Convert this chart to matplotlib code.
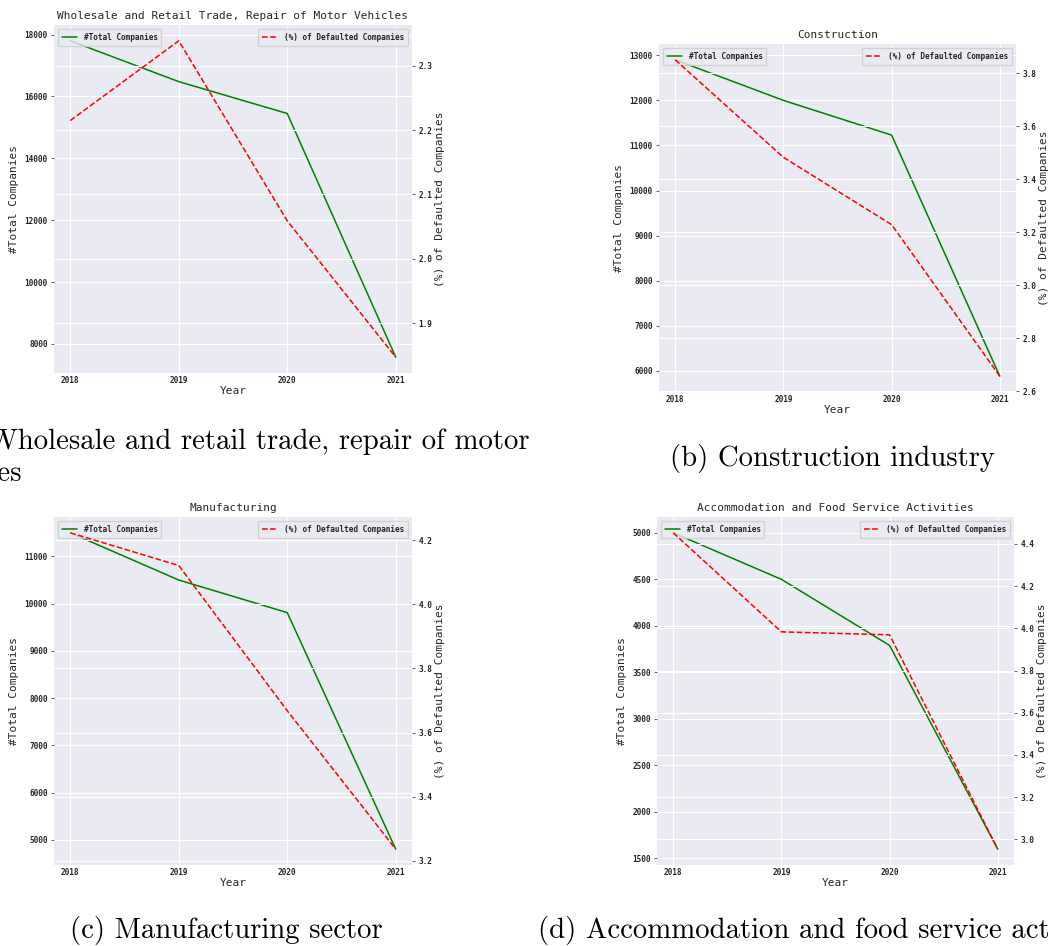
import matplotlib

matplotlib.use('Agg')
import matplotlib.pyplot as plt

years = [2018, 2019, 2020, 2021]

titles = ["Wholesale and Retail Trade, Repair of Motor Vehicles",
          "Construction",
          "Manufacturing",
          "Accommodation and Food Service Activities"]

# total companies per year
total_wholesale = [17800, 16480, 15450, 7570]
total_construction = [12900, 12000, 11230, 5880]
total_manufacturing = [11500, 10500, 9810, 4800]
total_accommodation = [5000, 4500, 3790, 1600]

# share of defaulted companies (%)
pct_wholesale = [2.215, 2.339, 2.059, 1.847]
pct_construction = [3.850, 3.482, 3.228, 2.656]
pct_manufacturing = [4.223, 4.121, 3.668, 3.236]
pct_accommodation = [4.452, 3.983, 3.969, 2.954]

captions = ["(a) Wholesale and retail trade, repair of motor",
            "vehicles",
            "(b) Construction industry",
            "(c) Manufacturing sector",
            "(d) Accommodation and food service activities"]

plt.style.use('seaborn-v0_8-darkgrid')
plt.rcParams['font.family'] = 'DejaVu Sans Mono'

W, H = 1049, 946
fig = plt.figure(figsize=(W / 100, H / 100), dpi=100)

# axes boxes in pixels: left, top, width, height
boxes = [(54, 25, 358, 348), (659, 44, 357, 348),
         (54, 517, 358, 348), (657, 517, 357, 348)]

totals = [total_wholesale, total_construction, total_manufacturing, total_accommodation]
pcts = [pct_wholesale, pct_construction, pct_manufacturing, pct_accommodation]

for i in range(4):
    l, t, w, h = boxes[i]
    ax = fig.add_axes([l / W, 1 - (t + h) / H, w / W, h / H])
    ax.plot(years, totals[i], color='g', lw=1.1, label='#Total Companies')
    ax.set_xticks(years)
    ax.set_title(titles[i], fontsize=8, color='.15', pad=4)
    ax.set_xlabel("Year", fontsize=8, labelpad=1)
    ax.set_ylabel("#Total Companies", fontsize=8)
    ax.tick_params(axis='both', labelsize=5.6, pad=2, colors='.15')
    ax.tick_params(axis='y', length=2.5, width=0.6, color='.3')
    ax.tick_params(axis='x', length=0)
    for lab in ax.get_xticklabels() + ax.get_yticklabels():
        lab.set_fontweight('bold')
    ax.legend(loc='upper left', prop={'size': 5.6, 'weight': 'bold'},
              frameon=True, borderpad=0.5)

    ax2 = ax.twinx()
    ax2.plot(years, pcts[i], color='r', ls='--', lw=1.1,
             label='(%) of Defaulted Companies')
    ax2.set_ylabel("(%) of Defaulted Companies", fontsize=8, labelpad=2)
    ax2.tick_params(axis='y', labelsize=5.6, pad=2, length=2.5, width=0.6,
                    color='.3', labelcolor='.15')
    for lab in ax2.get_yticklabels():
        lab.set_fontweight('bold')
    ax2.legend(loc='upper right', prop={'size': 5.6, 'weight': 'bold'},
               frameon=True, borderpad=0.5)
    for sp in ax2.spines.values():
        sp.set_visible(False)

# sub-captions, in a Computer Modern face (the page is cropped at both sides)
cap = dict(fontfamily='cmr10', fontsize=20.7, color='black', va='center')
fig.text(530 / W, 1 - 441 / H, captions[0], ha='right', **cap)
fig.text(-74 / W, 1 - 474 / H, captions[1], ha='left', **cap)
fig.text(832 / W, 1 - 458 / H, captions[2], ha='center', **cap)
fig.text(70 / W, 1 - 930 / H, captions[3], ha='left', **cap)
fig.text(538 / W, 1 - 930 / H, captions[4], ha='left', **cap)

fig.savefig("out.png", dpi=100, facecolor='white')
